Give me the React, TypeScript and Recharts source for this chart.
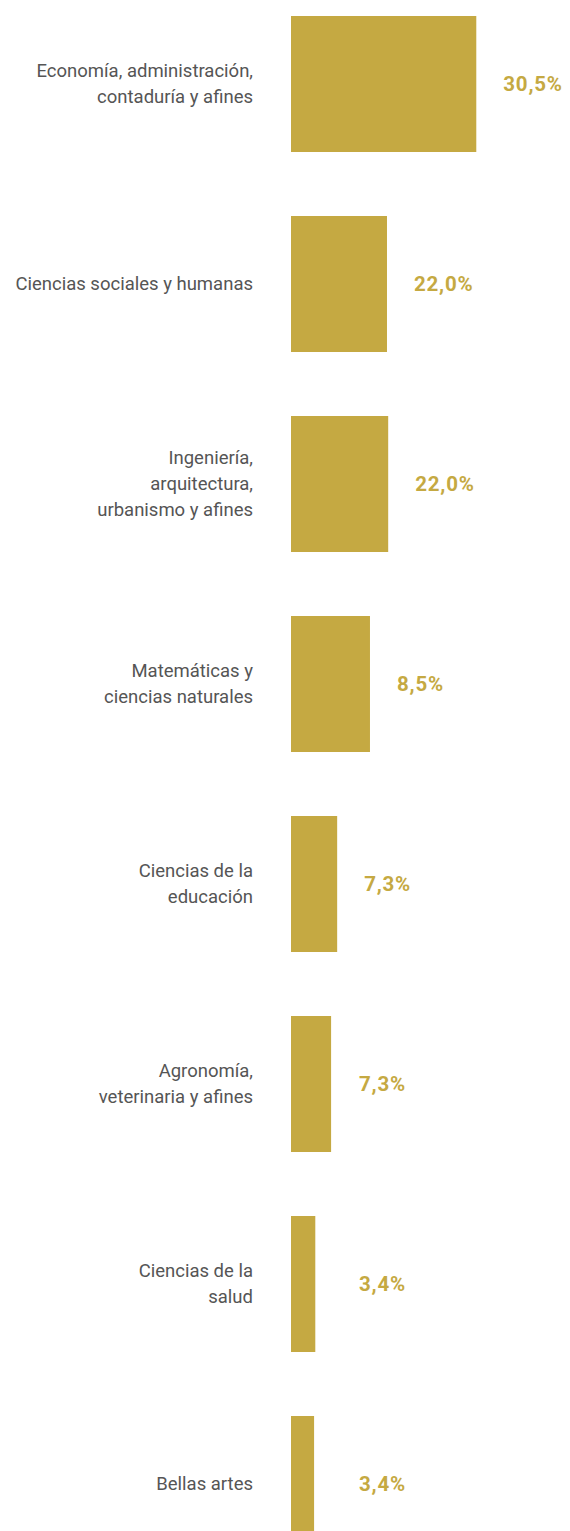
import React from "react";
import { BarChart, Bar, XAxis, YAxis, LabelList } from "recharts";

// Category labels (line breaks as in the original)
const categories = [
  "Economía, administración,\ncontaduría y afines",
  "Ciencias sociales y humanas",
  "Ingeniería,\narquitectura,\nurbanismo y afines",
  "Matemáticas y\nciencias naturales",
  "Ciencias de la\neducación",
  "Agronomía,\nveterinaria y afines",
  "Ciencias de la\nsalud",
  "Bellas artes",
];

// Printed share values (%)
const shares = [30.5, 22.0, 22.0, 8.5, 7.3, 7.3, 3.4, 3.4];

// Bar lengths as drawn in the original graphic (same % units)
const barLengths = [30.5, 15.8, 16.0, 13.0, 7.6, 6.6, 4.0, 3.8];

const data = categories.map((name, i) => ({
  name,
  share: shares[i],
  length: barLengths[i],
}));

const GOLD = "#C5A942";
const GRAY = "#555555";
const FONT = "Roboto, 'Noto Sans', sans-serif";

const CategoryTick = (props: any) => {
  const { x, y, payload } = props;
  const lines = String(payload.value).split("\n");
  const lh = 26;
  const startY = y - ((lines.length - 1) * lh) / 2;
  return (
    <text
      x={x}
      y={startY}
      textAnchor="end"
      fill={GRAY}
      fontFamily={FONT}
      fontSize={18.5}
      dominantBaseline="central"
    >
      {lines.map((l, i) => (
        <tspan key={i} x={x} y={startY + i * lh} dominantBaseline="central">
          {l}
        </tspan>
      ))}
    </text>
  );
};

const ValueLabel = (props: any) => {
  const { x, y, width, height, value } = props;
  const end = Number(x) + Number(width);
  const lx = Math.max(end + 27, Number(x) + 68);
  const txt = Number(value).toFixed(1).replace(".", ",") + "%";
  return (
    <text
      x={lx}
      y={Number(y) + Number(height) / 2}
      fill={GOLD}
      fontFamily={FONT}
      fontWeight={700}
      fontSize={20.5}
      letterSpacing={0.8}
      dominantBaseline="central"
    >
      {txt}
    </text>
  );
};

export default function App() {
  return (
    <BarChart
      layout="vertical"
      width={562}
      height={1523}
      data={data}
      margin={{ top: -24, right: 36, bottom: -53, left: 0 }}
      barSize={136}
      barCategoryGap={0}
    >
      <XAxis type="number" domain={[0, 40]} hide />
      <YAxis
        type="category"
        dataKey="name"
        width={283}
        tickLine={false}
        axisLine={false}
        tickSize={0}
        tickMargin={38}
        interval={0}
        tick={<CategoryTick />}
      />
      <Bar dataKey="length" fill={GOLD} isAnimationActive={false}>
        <LabelList dataKey="share" content={<ValueLabel />} />
      </Bar>
    </BarChart>
  );
}
